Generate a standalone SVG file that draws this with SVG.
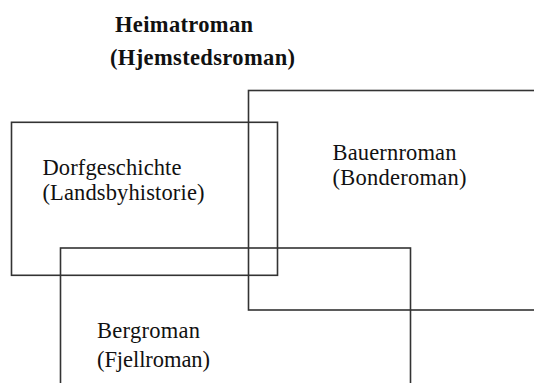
<svg xmlns="http://www.w3.org/2000/svg" width="534" height="383" viewBox="0 0 534 383">
<style>
.box{fill:none;stroke:#333;stroke-width:1.6}
.t{font-family:"Liberation Serif","Times New Roman",serif;font-size:22.5px;fill:#111}
.h{font-family:"Liberation Serif","Times New Roman",serif;font-size:22.5px;font-weight:bold;fill:#111}
</style>
<rect width="534" height="383" fill="#fff"/>
<g id="title">
<text class="h" x="115" y="31.5" textLength="138">Heimatroman</text>
<text class="h" x="110" y="65" textLength="185">(Hjemstedsroman)</text>
</g>
<g id="dorfgeschichte">
<rect class="box" x="11.5" y="122.3" width="266" height="153"/>
<text class="t" x="42.5" y="175" textLength="139">Dorfgeschichte</text>
<text class="t" x="42.5" y="200" textLength="162">(Landsbyhistorie)</text>
</g>
<g id="bauernroman">
<rect class="box" x="248.5" y="90.5" width="300" height="219.5"/>
<text class="t" x="332.5" y="160" textLength="124">Bauernroman</text>
<text class="t" x="332.5" y="185" textLength="134">(Bonderoman)</text>
</g>
<g id="bergroman">
<rect class="box" x="60.5" y="248" width="350" height="200"/>
<text class="t" x="97" y="338" textLength="103">Bergroman</text>
<text class="t" x="97" y="366.5" textLength="113">(Fjellroman)</text>
</g>
<g id="connectors"></g>
</svg>
